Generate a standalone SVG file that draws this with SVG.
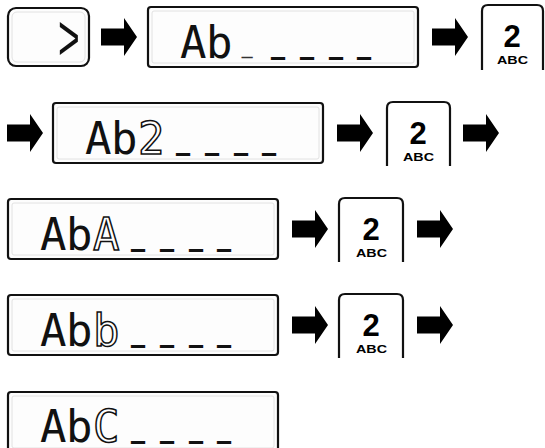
<svg xmlns="http://www.w3.org/2000/svg" width="545" height="448" viewBox="0 0 545 448">
<style>
.lcd{fill:#fdfdfd;stroke:#111;stroke-width:2.2}
.lcdin{fill:none;stroke:#e2e2e2;stroke-width:1}
.seg{font-family:"DejaVu Sans Mono",monospace;font-size:44px;fill:#111}
.hol{fill:#fff;stroke:#111;stroke-width:1.5}
.dash{font-family:"DejaVu Sans Mono",monospace;font-size:20px;fill:#111;stroke:#111;stroke-width:2.2}
.cur{fill:#888;stroke:#333;stroke-width:1}
.key{fill:#fff;stroke:#111;stroke-width:2.2}
.k2{font-family:"Liberation Sans",Arial,sans-serif;font-weight:bold;font-size:31px;fill:#000;text-anchor:middle}
.kabc{font-family:"Liberation Sans",Arial,sans-serif;font-weight:bold;font-size:10px;fill:#000}
.arr{fill:#000}
</style>
<defs>
<path id="arrow" d="M0,-8.5 H23 V-19 L36,0 L23,19 V8.5 H0 Z"/>
</defs>

<g id="connectors">
<use href="#arrow" class="arr" x="101" y="37"/>
<use href="#arrow" class="arr" x="432" y="37"/>
<use href="#arrow" class="arr" x="7" y="133"/>
<use href="#arrow" class="arr" x="337" y="133"/>
<use href="#arrow" class="arr" x="463" y="133"/>
<use href="#arrow" class="arr" x="292" y="229"/>
<use href="#arrow" class="arr" x="417" y="229"/>
<use href="#arrow" class="arr" x="292" y="325"/>
<use href="#arrow" class="arr" x="417" y="325"/>
</g>

<g id="button">
<rect x="8" y="8" width="81" height="58" rx="8" fill="#fdfdfd" stroke="#111" stroke-width="2.2"/>
<rect x="12" y="12" width="73" height="50" rx="5" class="lcdin"/>
<text transform="translate(58,60) scale(0.58,1)" x="0" y="0" font-family="'Liberation Sans',Arial,sans-serif" font-size="64" fill="#111">&gt;</text>
</g>

<g id="lcd1">
<rect x="148" y="7" width="270" height="60" rx="3" class="lcd"/>
<rect x="152" y="11" width="262" height="52" rx="2" class="lcdin"/>
<text class="seg" x="180 206" y="58">Ab</text>
<text class="dash" x="242 272 301 330 358" y="54"><tspan class="cur" font-size="17">_</tspan>____</text>
</g>

<g id="key1">
<path class="key" d="M482,70 V11 Q482,5 488,5 H537 Q543,5 543,11 V70"/>
<text class="k2" x="512" y="47">2</text>
<text class="kabc" x="497" y="64" textLength="31" lengthAdjust="spacingAndGlyphs">ABC</text>
</g>

<g id="lcd2">
<rect x="53" y="103" width="270" height="60" rx="3" class="lcd"/>
<rect x="57" y="107" width="262" height="52" rx="2" class="lcdin"/>
<text class="seg" x="85 111" y="154">Ab<tspan class="hol" x="138">2</tspan></text>
<text class="dash" x="177 206 235 263" y="150">____</text>
</g>

<g id="key2">
<path class="key" d="M387,166 V108 Q387,102 393,102 H444 Q450,102 450,108 V166"/>
<text class="k2" x="418" y="144">2</text>
<text class="kabc" x="403" y="161" textLength="31" lengthAdjust="spacingAndGlyphs">ABC</text>
</g>

<g id="lcd3">
<rect x="8" y="199" width="270" height="60" rx="3" class="lcd"/>
<rect x="12" y="203" width="262" height="52" rx="2" class="lcdin"/>
<text class="seg" x="40 66" y="250">Ab<tspan class="hol" x="93">A</tspan></text>
<text class="dash" x="132 161 190 218" y="246">____</text>
</g>

<g id="key3">
<path class="key" d="M339,262 V204 Q339,198 345,198 H397 Q403,198 403,204 V262"/>
<text class="k2" x="371" y="240">2</text>
<text class="kabc" x="356" y="257" textLength="31" lengthAdjust="spacingAndGlyphs">ABC</text>
</g>

<g id="lcd4">
<rect x="8" y="295" width="270" height="60" rx="3" class="lcd"/>
<rect x="12" y="299" width="262" height="52" rx="2" class="lcdin"/>
<text class="seg" x="40 66" y="346">Ab<tspan class="hol" x="93">b</tspan></text>
<text class="dash" x="132 161 190 218" y="342">____</text>
</g>

<g id="key4">
<path class="key" d="M339,358 V300 Q339,294 345,294 H397 Q403,294 403,300 V358"/>
<text class="k2" x="371" y="336">2</text>
<text class="kabc" x="356" y="353" textLength="31" lengthAdjust="spacingAndGlyphs">ABC</text>
</g>

<g id="lcd5">
<rect x="8" y="392" width="270" height="60" rx="3" class="lcd"/>
<rect x="12" y="396" width="262" height="52" rx="2" class="lcdin"/>
<text class="seg" x="40 66" y="442">Ab<tspan class="hol" x="93">C</tspan></text>
<text class="dash" x="132 161 190 218" y="438">____</text>
</g>
</svg>
